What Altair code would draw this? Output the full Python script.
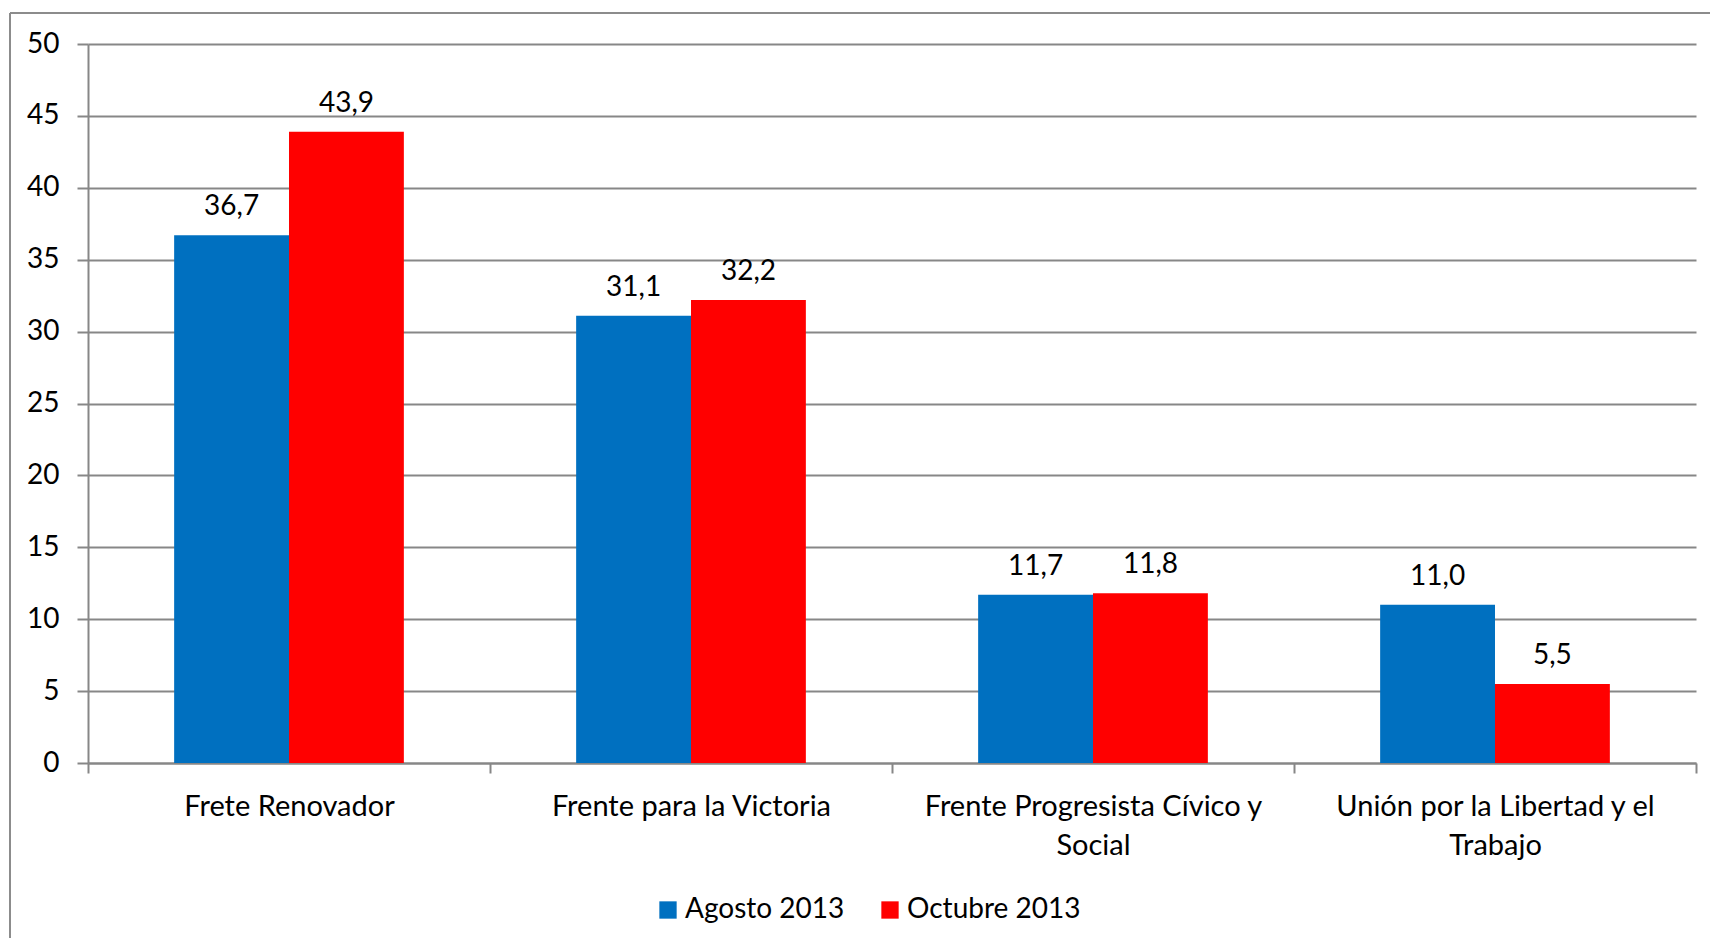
import altair as alt
import pandas as pd

parties = [
    "Frete Renovador",
    "Frente para la Victoria",
    "Frente Progresista Cívico y\nSocial",
    "Unión por la Libertad y el\nTrabajo",
]
series_names = ["Agosto 2013", "Octubre 2013"]
agosto = [36.7, 31.1, 11.7, 11.0]
octubre = [43.9, 32.2, 11.8, 5.5]
colors = ["#0070C0", "#FF0000"]
y_ticks = [0, 5, 10, 15, 20, 25, 30, 35, 40, 45, 50]

rows = []
for p, a, o in zip(parties, agosto, octubre):
    rows.append({"party": p, "serie": series_names[0], "value": a})
    rows.append({"party": p, "serie": series_names[1], "value": o})
df = pd.DataFrame(rows)

FONT = "Lato"
GRAY = "#878787"
FS = 28

base = alt.Chart(df).transform_calculate(
    label="replace(format(datum.value, '.1f'), '.', ',')"
).encode(
    x=alt.X(
        "party:N",
        sort=parties,
        scale=alt.Scale(paddingInner=0, paddingOuter=0),
        axis=alt.Axis(
            title=None,
            labelAngle=0,
            labelExpr="split(datum.label, '\\n')",
            labelFont=FONT,
            labelFontSize=29,
            labelColor="#000000",
            labelLineHeight=39,
            labelPadding=19,
            labelLimit=0,
            domainColor=GRAY,
            domainWidth=2,
            ticks=True,
            tickBand="extent",
            tickColor=GRAY,
            tickWidth=2,
            tickSize=10,
            grid=False,
        ),
    ),
    xOffset=alt.XOffset("serie:N", sort=series_names,
                        scale=alt.Scale(paddingInner=0, paddingOuter=0.75)),
    y=alt.Y(
        "value:Q",
        scale=alt.Scale(domain=[0, 50], nice=False),
        axis=alt.Axis(
            title=None,
            values=y_ticks,
            labelFont=FONT,
            labelFontSize=FS,
            labelColor="#000000",
            labelPadding=18,
            domainColor=GRAY,
            domainWidth=2,
            tickColor=GRAY,
            tickWidth=2,
            tickSize=11,
            grid=True,
            gridColor=GRAY,
            gridWidth=2,
        ),
    ),
)

bars = base.mark_bar().encode(
    color=alt.Color(
        "serie:N",
        sort=series_names,
        scale=alt.Scale(domain=series_names, range=colors),
        legend=alt.Legend(
            title=None,
            orient="none",
            legendX=566,
            legendY=852,
            direction="horizontal",
            symbolType="square",
            symbolSize=300,
            symbolStrokeWidth=0,
            labelFont=FONT,
            labelFontSize=FS,
            labelColor="#000000",
            labelOffset=3,
            labelLimit=0,
            columnPadding=31,
        ),
    )
)

labels = base.mark_text(
    font=FONT, fontSize=FS, color="#000000", baseline="alphabetic", dy=-20
).encode(text="label:N")

frame_df = pd.DataFrame({"k": [0]})
frame_v = alt.Chart(frame_df).mark_rule(color="#8c8c8c", strokeWidth=2).encode(
    x=alt.value(-78), y=alt.value(-31), y2=alt.value(1000)
)
frame_h = alt.Chart(frame_df).mark_rule(color="#8c8c8c", strokeWidth=2).encode(
    x=alt.value(-78), x2=alt.value(1700), y=alt.value(-31)
)

chart = alt.layer(frame_v, frame_h, bars, labels).properties(
    width=1608,
    height=719,
    autosize=alt.AutoSizeParams(type="none"),
    padding={"left": 80, "top": 36, "right": 14, "bottom": 175},
).configure_view(stroke=None)

chart.save("out.html", embed_options={"renderer": "svg", "actions": False})
